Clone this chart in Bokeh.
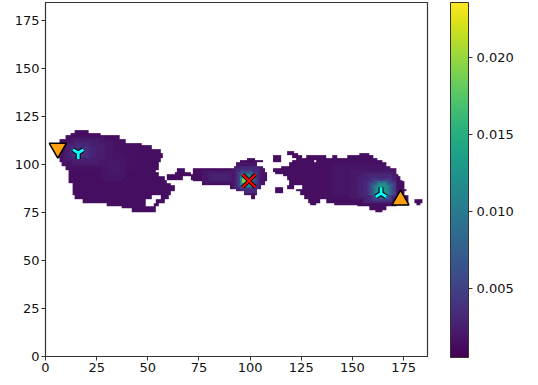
import numpy as np
from bokeh.embed import file_html
from bokeh.models import ColorBar, FixedTicker, LinearColorMapper, NumeralTickFormatter, Range1d
from bokeh.palettes import Viridis256
from bokeh.plotting import figure
from bokeh.resources import INLINE

# occupied cells: (y_low, y_high, x_low, x_high), one list per island
left_runs = [(116,117,14,20),(115,115,12,26),(113,114,10,35),(111,112,7,38),(110,110,6,46),
    (108,109,6,51),(106,107,6,55),(103,105,6,56),(101,102,7,55),(99,100,8,54),(97,98,10,54),
    (96,96,11,53),(94,95,11,54),(92,93,11,57),(90,91,11,58),(89,89,13,60),(86,88,13,62),
    (84,85,13,60),(82,83,14,51),(82,83,56,59),(80,81,18,48),(80,81,54,57),(78,79,30,48),
    (78,79,53,54),(77,77,37,53),(75,76,42,53)]
middle_runs = [(102,102,98,101),(101,101,95,105),(99,100,93,102),(98,98,92,105),(96,97,64,67),
    (96,97,72,91),(96,97,91,106),(95,95,63,70),(95,95,72,107),(94,94,59,107),(92,93,59,66),
    (92,93,71,107),(91,91,72,107),(89,90,76,106),(87,88,90,104),(86,86,93,102),(84,85,97,102),
    (82,83,100,101)]
right_runs = [(106,106,118,120),(105,105,118,122),(105,105,153,157),(103,104,120,124),
    (103,104,127,136),(103,104,140,141),(103,104,147,159),(102,102,122,161),(101,101,120,130),
    (101,101,132,163),(99,100,119,165),(98,98,115,167),(96,97,111,170),(95,95,112,170),
    (94,94,116,171),(92,93,118,172),(91,91,119,173),(89,90,119,174),(87,88,118,120),
    (87,88,125,174),(86,86,122,175),(84,85,124,174),(82,83,126,176),(80,81,128,133),
    (80,81,137,176),(80,81,180,183),(79,79,129,131),(79,79,141,176),(79,79,181,182),
    (78,78,152,170),(76,77,158,165),(75,75,161,163),(101,104,111,114),(85,87,112,115)]
base_level = 0.0014

# density plateaus: (y_low, y_high, x_low, x_high, density)
plateaus = [
    # left island
    (96,113,8,45,0.0015),(98,112,8,40,0.0016),(93,103,27,38,0.0018),(91,105,29,36,0.0018),
    (95,101,30,35,0.002),(101,111,9,32,0.0019),(99,113,12,28,0.0019),(102,110,10,28,0.0023),
    (100,112,13,25,0.0023),(103,109,11,24,0.0027),(102,111,14,21,0.0027),(104,108,12,22,0.0032),
    (103,110,14,20,0.0032),(104,108,13,20,0.0037),
    # middle island
    (90,96,76,92,0.0019),(91,95,79,90,0.0023),(92,94,81,88,0.0028),(84,100,91,106,0.0017),
    (86,98,92,104,0.0024),(87,97,93,103,0.0033),(85,98,95,102,0.0033),(88,95,94,102,0.005),
    (87,96,95,100,0.005),(89,94,95,101,0.0075),(88,95,96,100,0.0075),(89,93,95,100,0.011),
    (88,94,96,99,0.011),(90,92,96,99,0.015),(90,92,96,98,0.019),
    # right island
    (82,101,130,172,0.0015),(84,99,140,170,0.0018),(82,96,148,170,0.0021),(83,93,152,170,0.0026),
    (80,95,155,168,0.0026),(83,91,155,170,0.0032),(81,94,157,168,0.0032),(84,90,157,170,0.0042),
    (81,92,159,168,0.0042),(84,89,158,169,0.0055),(82,91,160,167,0.0055),(84,89,159,168,0.007),
    (82,90,161,166,0.007),(84,88,160,167,0.009),(83,90,162,165,0.009),(85,88,161,166,0.012),
    (84,89,162,165,0.012)]

# markers
down_x, down_y = [6], [108.5]
up_x, up_y = [173.5], [81.5]
fork_x, fork_y = [16], [106]
fork2_x, fork2_y = [164], [85]
cross_x, cross_y = [99.5], [91.5]

x_ticks = [0, 25, 50, 75, 100, 125, 150, 175]
y_ticks = [0, 25, 50, 75, 100, 125, 150, 175]
bar_ticks = [0.005, 0.010, 0.015, 0.020]
bar_low, bar_high = 0.00052, 0.02357

grid = np.full((60, 195), np.nan)
for y0, y1, x0, x1 in left_runs + middle_runs + right_runs:
    grid[y0 - 60:y1 - 59, x0:x1 + 1] = base_level
for y0, y1, x0, x1, v in sorted(plateaus, key=lambda r: r[4]):
    block = grid[y0 - 60:y1 - 59, x0:x1 + 1]
    block[~np.isnan(block)] = v

mapper = LinearColorMapper(palette=Viridis256, low=bar_low, high=bar_high, nan_color="rgba(0,0,0,0)")

p = figure(width=538, height=377, frame_width=382, frame_height=354, output_backend="svg",
           toolbar_location=None, x_range=Range1d(0, 186.7), y_range=Range1d(0, 184.4),
           min_border_left=45, min_border_top=2, min_border_bottom=21, min_border_right=0)
p.grid.visible = False
p.outline_line_color = "#333333"
p.outline_line_width = 1.2
p.image(image=[grid], x=0, y=60, dw=195, dh=60, color_mapper=mapper)

for ax, ticks in ((p.xaxis[0], x_ticks), (p.yaxis[0], y_ticks)):
    ax.ticker = FixedTicker(ticks=ticks)
    ax.major_label_text_font = "DejaVu Sans"
    ax.major_label_text_font_size = "13px"
    ax.major_label_text_color = "#111111"
    ax.major_tick_in = 0
    ax.major_tick_out = 4
    ax.minor_tick_line_color = None
    ax.major_label_standoff = 2
    ax.axis_line_color = "#333333"
    ax.major_tick_line_color = "#333333"

p.scatter(down_x, down_y, marker="inverted_triangle", size=17, fill_color="#ff9f0f", line_color="black", line_width=1.5)
p.scatter(up_x, up_y, marker="triangle", size=17, fill_color="#ff9f0f", line_color="black", line_width=1.5)
p.scatter(fork_x, fork_y, marker="y", size=12, line_color="black", line_width=5, fill_color=None)
p.scatter(fork_x, fork_y, marker="y", size=12, line_color="cyan", line_width=2.8, fill_color=None)
p.scatter(fork2_x, fork2_y, marker="y", size=12, angle=np.pi, line_color="black", line_width=5, fill_color=None)
p.scatter(fork2_x, fork2_y, marker="y", size=12, angle=np.pi, line_color="cyan", line_width=2.8, fill_color=None)
p.scatter(cross_x, cross_y, marker="x", size=18, line_color="black", line_width=4)
p.scatter(cross_x, cross_y, marker="x", size=18, line_color="red", line_width=2.2)

bar = ColorBar(color_mapper=mapper, ticker=FixedTicker(ticks=bar_ticks), width=18, height=355,
               location=(23, -1), padding=0, margin=0, major_tick_in=0, major_tick_out=4,
               major_tick_line_color="#333333", bar_line_color="#333333", border_line_color=None,
               major_label_text_font="DejaVu Sans", major_label_text_font_size="13px",
               major_label_text_color="#111111", label_standoff=4,
               formatter=NumeralTickFormatter(format="0.000"))
p.add_layout(bar, "right")

open("out.html", "w").write(file_html(p, INLINE))
